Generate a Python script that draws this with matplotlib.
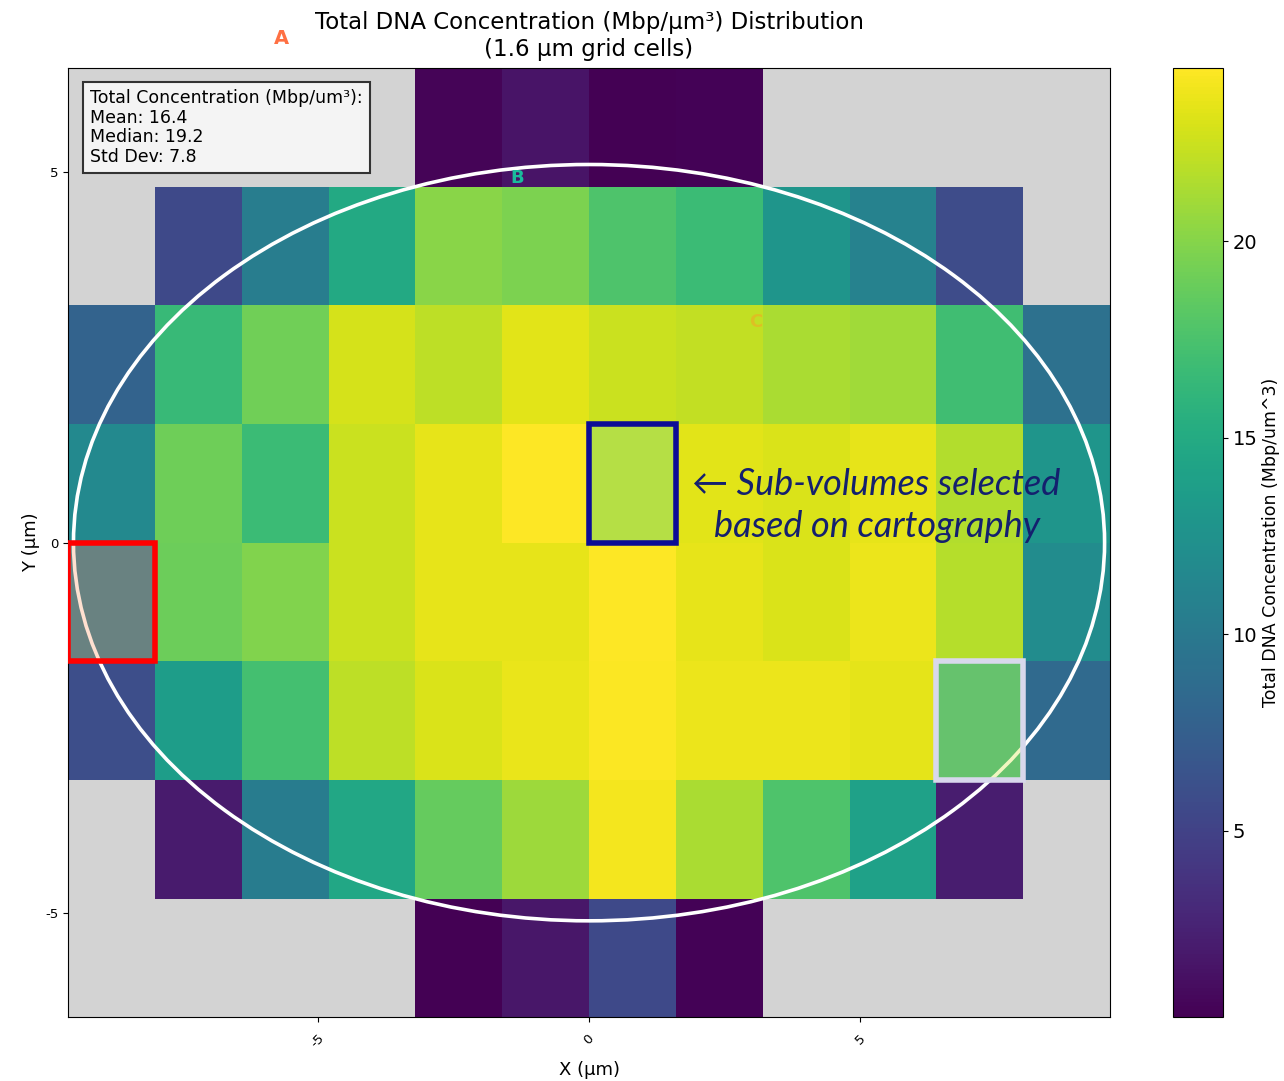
import numpy as np
import matplotlib
matplotlib.use("Agg")
import matplotlib.pyplot as plt
from matplotlib.patches import Ellipse, Rectangle

plt.rcParams["axes.unicode_minus"] = False

nan = np.nan

# Grid geometry (µm)
cell_size = 1.6
x_edges = np.arange(-9.6, 9.6 + 1e-9, cell_size)
y_edges = np.arange(-6.4, 6.4 + 1e-9, cell_size)

# Total DNA concentration per grid cell (Mbp/µm³), rows listed from top (y=6.4) to bottom
row_y_4p8 = [nan, nan, nan, nan, 0.5, 1.5, 0.25, 0.35, nan, nan, nan, nan]
row_y_3p2 = [nan, 5.6, 10.4, 14.8, 20.1, 19.6, 17.7, 16.7, 12.8, 10.9, 5.8, nan]
row_y_1p6 = [7.8, 16.5, 19.2, 22.8, 22.0, 23.3, 22.5, 22.2, 21.3, 21.0, 17.0, 9.2]
row_y_0p0 = [11.6, 19.1, 16.7, 22.5, 23.5, 24.4, 21.4, 23.3, 23.0, 23.5, 21.6, 12.8]
row_y_m1p6 = [10.0, 19.0, 19.8, 22.5, 23.5, 23.5, 24.4, 23.5, 23.0, 23.7, 21.7, 11.9]
row_y_m3p2 = [6.0, 13.6, 17.2, 22.0, 23.0, 23.6, 24.3, 23.7, 23.7, 23.4, 15.5, 8.5]
row_y_m4p8 = [nan, 2.0, 10.3, 14.6, 18.7, 20.9, 24.0, 21.3, 17.7, 14.0, 2.2, nan]
row_y_m6p4 = [nan, nan, nan, nan, 0.3, 1.7, 5.6, 0.4, nan, nan, nan, nan]

rows_top_to_bottom = [row_y_4p8, row_y_3p2, row_y_1p6, row_y_0p0,
                      row_y_m1p6, row_y_m3p2, row_y_m4p8, row_y_m6p4]

stats_lines = ["Total Concentration (Mbp/um³):", "Mean: 16.4", "Median: 19.2", "Std Dev: 7.8"]

# Selected sub-volumes: lower-left corner (x, y) in µm
selected_cells = [(-9.6, -1.6), (0.0, 0.0), (6.4, -3.2)]
selected_edge = ["#ff0000", "#0c0c96", "#d8d8ec"]
selected_face = [(1.0, 0.6, 0.4, 0.3), (1.0, 1.0, 1.0, 0.1), (0.85, 0.9, 0.3, 0.35)]

grid = np.ma.masked_invalid(np.flipud(np.array(rows_top_to_bottom, dtype=float)))

fig = plt.figure(figsize=(12.84, 10.81), dpi=100)
ax = fig.add_axes([0.053, 0.059, 0.8115, 0.878])
cax = fig.add_axes([0.9136, 0.059, 0.039, 0.878])

ax.set_facecolor("lightgray")
mesh = ax.pcolormesh(x_edges, y_edges, grid, cmap="viridis",
                     vmin=np.nanmin(grid), vmax=np.nanmax(grid), zorder=1)
ax.set_xlim(x_edges[0], x_edges[-1])
ax.set_ylim(y_edges[0], y_edges[-1])

# Nucleus outline
ax.add_patch(Ellipse((0, 0), 19.0, 10.2, fill=False, edgecolor="white",
                     linewidth=2.6, zorder=3))

for (cx, cy), ec, fc in zip(selected_cells, selected_edge, selected_face):
    ax.add_patch(Rectangle((cx, cy), cell_size, cell_size, facecolor=fc,
                           edgecolor=ec, linewidth=4, zorder=4))

ax.text(5.3, 0.5, "← Sub-volumes selected\nbased on cartography",
        family="Lato", style="italic", fontsize=26, color="#14206e",
        ha="center", va="center", linespacing=1.35, zorder=5)

ax.text(-5.66, 6.8, "A", color="#ff7043", fontsize=14, fontweight="bold",
        ha="center", va="center", clip_on=False)
ax.text(-1.32, 4.92, "B", color="#1abc9c", fontsize=13, fontweight="bold",
        ha="center", va="center", zorder=5)
ax.text(3.07, 2.98, "C", color="#f5a623", alpha=0.55, fontsize=13,
        fontweight="bold", ha="center", va="center", zorder=5)

ax.text(0.021, 0.978, "\n".join(stats_lines), transform=ax.transAxes,
        fontsize=12.5, va="top", ha="left", zorder=6, linespacing=1.12,
        bbox=dict(boxstyle="square,pad=0.4", facecolor="#f4f4f4",
                  edgecolor="#333333", linewidth=1.5))

ax.set_xticks([-5, 0, 5])
ax.set_yticks([-5, 0, 5])
ax.tick_params(axis="both", labelsize=9.5)
ax.tick_params(axis="x", pad=7)
plt.setp(ax.get_xticklabels(), rotation=45)
ax.set_xlabel("X (µm)", fontsize=13, labelpad=8)
ax.set_ylabel("Y (µm)", fontsize=13)
ax.set_title("Total DNA Concentration (Mbp/µm³) Distribution\n(1.6 µm grid cells)",
             fontsize=16.5, pad=9)

cbar = fig.colorbar(mesh, cax=cax)
cbar.ax.tick_params(labelsize=14)
cbar.set_label("Total DNA Concentration (Mbp/um^3)", fontsize=12.5, labelpad=3)

fig.savefig("out.png", dpi=100)
